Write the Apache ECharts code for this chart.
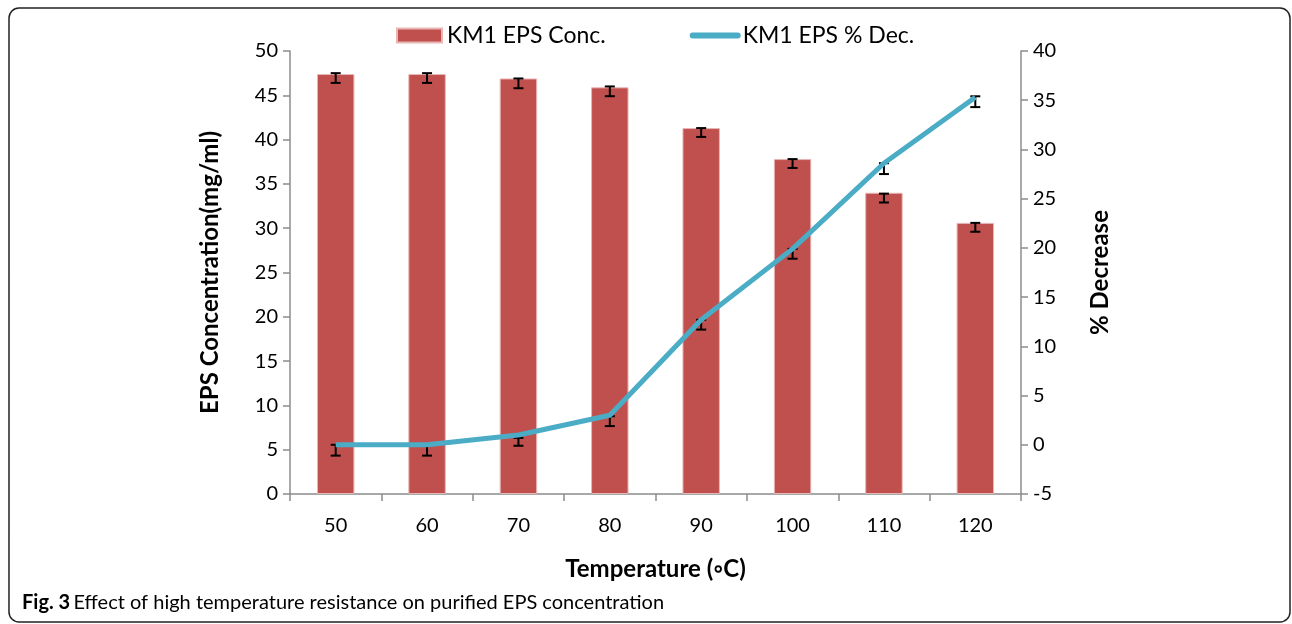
<!DOCTYPE html>
<html>
<head>
<meta charset="utf-8">
<script src="https://cdn.jsdelivr.net/npm/echarts@6/dist/echarts.min.js"></script>
<style>
html,body{margin:0;padding:0;background:#fff;}
#c{width:1292px;height:624px;}
</style>
</head>
<body>
<div id="c"></div>
<script>
// ---- data ----
const categories = ['50', '60', '70', '80', '90', '100', '110', '120'];
const concValues = [47.4, 47.4, 46.9, 45.9, 41.3, 37.8, 34.0, 30.6];
const concErrHigh = [47.5, 47.5, 46.9, 46.0, 41.3, 37.8, 33.9, 30.6];
const concErrLow  = [46.4, 46.4, 45.8, 44.9, 40.3, 36.8, 32.9, 29.6];
const decValues = [0, 0, 1.0, 3.0, 12.7, 19.9, 28.6, 35.3];
const decErrHigh = [0.0, 0.0, 0.7, 2.9, 12.7, 19.9, 28.6, 35.4];
const decErrLow  = [-1.1, -1.1, -0.1, 1.9, 11.7, 18.9, 27.5, 34.3];
const leftTicks = {min: 0, max: 50, interval: 5};
const rightTicks = {min: -5, max: 40, interval: 5};

const FONT = 'Lato';

function errItem(params, api) {
  const x = api.value(0);
  const hi = api.coord([x, api.value(1)]);
  const lo = api.coord([x, api.value(2)]);
  const w = 5;
  const st = {stroke: '#000', lineWidth: 2};
  return {
    type: 'group',
    children: [
      {type: 'line', shape: {x1: hi[0], y1: hi[1], x2: lo[0], y2: lo[1]}, style: st},
      {type: 'line', shape: {x1: hi[0]-w, y1: hi[1], x2: hi[0]+w, y2: hi[1]}, style: st},
      {type: 'line', shape: {x1: lo[0]-w, y1: lo[1], x2: lo[0]+w, y2: lo[1]}, style: st}
    ]
  };
}

const chart = echarts.init(document.getElementById('c'), null, {renderer: 'canvas'});
const axisLine = {show: true, lineStyle: {color: '#8c8c8c', width: 1.5}};
const axisTick = {show: true, length: 7, lineStyle: {color: '#8c8c8c', width: 1.5}};
const titleStyle = {fontFamily: FONT, fontSize: 24, fontWeight: 'bold', color: '#000'};

chart.setOption({
  animation: false,
  backgroundColor: '#fff',
  textStyle: {fontFamily: FONT},
  legend: {
    top: 19,
    left: 391,
    itemGap: 84,
    itemWidth: 45,
    itemHeight: 14,
    textStyle: {fontFamily: FONT, fontSize: 23, color: '#000'},
    data: [
      {name: 'KM1 EPS Conc.', icon: 'rect'},
      {name: 'KM1 EPS % Dec.',
       itemStyle: {color: 'transparent', borderWidth: 0, opacity: 0},
       lineStyle: {width: 6, color: '#4BACC6', cap: 'round'}}
    ]
  },
  grid: {left: 290, right: 271, top: 51, bottom: 130},
  xAxis: {
    type: 'category',
    data: categories,
    boundaryGap: true,
    axisLine: axisLine,
    axisTick: axisTick,
    axisLabel: {fontFamily: FONT, fontSize: 20, color: '#000', margin: 22},
    name: 'Temperature (\u25E6C)',
    nameLocation: 'middle',
    nameGap: 63,
    nameTextStyle: titleStyle,
    splitLine: {show: false}
  },
  yAxis: [
    {
      type: 'value',
      min: leftTicks.min, max: leftTicks.max, interval: leftTicks.interval,
      axisLine: axisLine, axisTick: axisTick,
      axisLabel: {fontFamily: FONT, fontSize: 20, color: '#000', margin: 12},
      splitLine: {show: false},
      name: 'EPS Concentration(mg/ml)',
      nameLocation: 'middle',
      nameGap: 68,
      nameTextStyle: titleStyle
    },
    {
      type: 'value',
      position: 'right',
      min: rightTicks.min, max: rightTicks.max, interval: rightTicks.interval,
      axisLine: axisLine, axisTick: axisTick,
      axisLabel: {fontFamily: FONT, fontSize: 20, color: '#000', margin: 12},
      splitLine: {show: false},
      name: '% Decrease',
      nameLocation: 'middle',
      nameGap: 67,
      nameRotate: 90,
      nameTextStyle: titleStyle
    }
  ],
  series: [
    {
      name: 'KM1 EPS Conc.',
      type: 'bar',
      yAxisIndex: 0,
      data: concValues,
      barWidth: '41%',
      itemStyle: {color: '#C0504D', borderColor: '#E8B6B5', borderWidth: 1}
    },
    {
      name: 'concErr',
      type: 'custom',
      yAxisIndex: 0,
      renderItem: errItem,
      data: categories.map((c, i) => [i, concErrHigh[i], concErrLow[i]]),
      z: 5,
      silent: true
    },
    {
      name: 'decErr',
      type: 'custom',
      yAxisIndex: 1,
      renderItem: errItem,
      data: categories.map((c, i) => [i, decErrHigh[i], decErrLow[i]]),
      z: 4,
      silent: true
    },
    {
      name: 'KM1 EPS % Dec.',
      type: 'line',
      yAxisIndex: 1,
      data: decValues,
      symbol: 'none',
      lineStyle: {color: '#4BACC6', width: 5},
      itemStyle: {color: '#4BACC6'},
      z: 6
    }
  ],
  graphic: [
    {
      type: 'rect',
      shape: {x: 9, y: 8, width: 1281, height: 614, r: 10},
      style: {fill: 'none', stroke: '#222', lineWidth: 1.5},
      silent: true, z: -1
    },
    {
      type: 'text',
      left: 22,
      top: 593,
      style: {
        text: '{b|Fig. 3} {r|Effect of high temperature resistance on purified EPS concentration}',
        rich: {
          b: {fontFamily: FONT, fontSize: 20, fontWeight: 'bold', fill: '#000'},
          r: {fontFamily: FONT, fontSize: 20, fill: '#000'}
        }
      }
    }
  ]
});
</script>
</body>
</html>
